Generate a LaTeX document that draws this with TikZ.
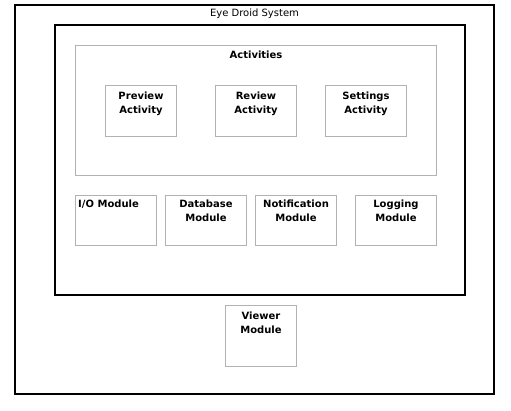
\documentclass[tikz,border=0pt]{standalone}
\usepackage{fontspec}
\setmainfont{DejaVu Sans}
\begin{document}
\begin{tikzpicture}[x=1pt,y=-1pt,
  frame/.style={draw=black, line width=1.3pt, inner sep=0pt},
  gbox/.style={draw=black!30, line width=1pt, inner sep=0pt},
  lbl/.style={font=\fontsize{10}{14}\selectfont\bfseries, align=center, inner sep=0pt, anchor=north},
  ttl/.style={font=\fontsize{10}{14}\selectfont, inner sep=0pt, anchor=north}]
\useasboundingbox (0,0) rectangle (511,410);
\fill[white] (0,0) rectangle (511,410);
% outer system
\draw[frame] (15,5) rectangle (494,394);
\coordinate (sysn) at (254.5,5);
\node[ttl] (systitle) at ([yshift=-3.5pt]sysn) {Eye Droid System};
% inner black frame
\draw[frame] (55,25) rectangle (465,295);
% activities
\node[gbox, anchor=north west, minimum width=361pt, minimum height=130pt] (act) at (75,45) {};
\node[lbl] (acttitle) at ([yshift=-6pt]act.north) {Activities};
\node[gbox, anchor=north west, minimum width=71pt, minimum height=51pt] (prev) at (105,85) {};
\node[lbl] at ([yshift=-6.5pt]prev.north) {Preview\\Activity};
\node[gbox, anchor=north west, minimum width=81pt, minimum height=51pt] (rev) at (215,85) {};
\node[lbl] at ([yshift=-6.5pt]rev.north) {Review\\Activity};
\node[gbox, anchor=north west, minimum width=81pt, minimum height=51pt] (set) at (325,85) {};
\node[lbl] at ([yshift=-6.5pt]set.north) {Settings\\Activity};
% modules
\node[gbox, anchor=north west, minimum width=81pt, minimum height=50pt] (io) at (75,195) {};
\node[lbl, anchor=north west] at ([xshift=3pt,yshift=-5pt]io.north west) {I/O Module};
\node[gbox, anchor=north west, minimum width=81pt, minimum height=50pt] (db) at (165,195) {};
\node[lbl] at ([yshift=-5pt]db.north) {Database\\Module};
\node[gbox, anchor=north west, minimum width=81pt, minimum height=50pt] (notif) at (255,195) {};
\node[lbl] at ([yshift=-5pt]notif.north) {Notification\\Module};
\node[gbox, anchor=north west, minimum width=81pt, minimum height=50pt] (log) at (355,195) {};
\node[lbl] at ([yshift=-5pt]log.north) {Logging\\Module};
% viewer
\node[gbox, anchor=north west, minimum width=71pt, minimum height=61pt] (view) at (225,305) {};
\node[lbl] at ([yshift=-7pt]view.north) {Viewer\\Module};
\end{tikzpicture}
\end{document}
